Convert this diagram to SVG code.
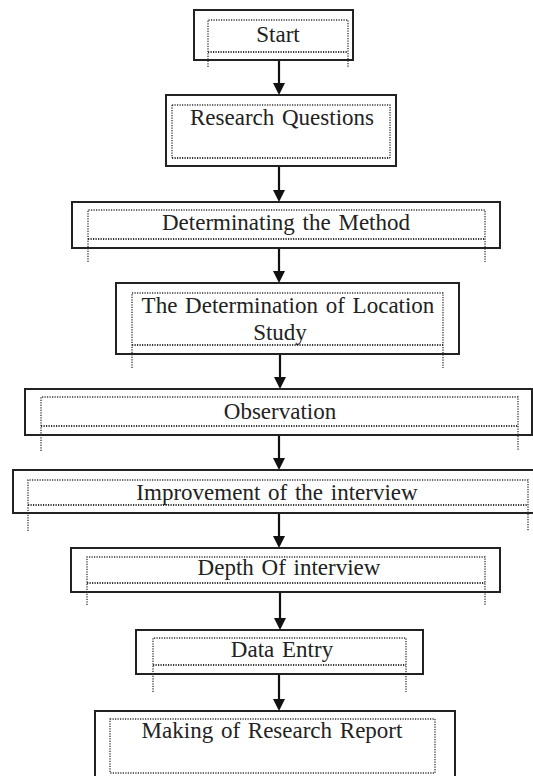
<svg xmlns="http://www.w3.org/2000/svg" width="533" height="776" viewBox="0 0 533 776">
<style>
  .outer { fill: #ffffff; stroke: #222222; stroke-width: 2; }
  .dot { fill: none; stroke: #333333; stroke-width: 1.3; stroke-dasharray: 1.2 1.3; }
  .dotb { fill: none; stroke: #333333; stroke-width: 2.2; stroke-dasharray: 1.2 1.3; }
  .lbl { font-family: "Liberation Serif", "Times New Roman", serif; font-size: 23px; fill: #222222; text-anchor: middle; word-spacing: 2px; }
  .conn { stroke: #111111; stroke-width: 2.2; fill: none; }
</style>
<defs>
  <marker id="arrow" markerUnits="userSpaceOnUse" markerWidth="12" markerHeight="12" viewBox="0 0 12 12" refX="8" refY="6" orient="auto">
    <path d="M0,0 L12,6 L0,12 z" fill="#111111"/>
  </marker>
</defs>
<rect width="533" height="776" fill="#ffffff"/>

<g id="connectors">
  <line class="conn" x1="279" y1="60" x2="279" y2="91" marker-end="url(#arrow)"/>
  <line class="conn" x1="279" y1="166" x2="279" y2="198" marker-end="url(#arrow)"/>
  <line class="conn" x1="279" y1="248" x2="279" y2="279" marker-end="url(#arrow)"/>
  <line class="conn" x1="280" y1="354" x2="280" y2="385" marker-end="url(#arrow)"/>
  <line class="conn" x1="279" y1="435" x2="279" y2="466" marker-end="url(#arrow)"/>
  <line class="conn" x1="279" y1="513" x2="279" y2="544" marker-end="url(#arrow)"/>
  <line class="conn" x1="280" y1="592" x2="280" y2="626" marker-end="url(#arrow)"/>
  <line class="conn" x1="279" y1="674" x2="279" y2="707" marker-end="url(#arrow)"/>
</g>

<g id="start">
  <rect class="outer" x="194" y="10" width="159" height="50"/>
  <path class="dot" d="M208,67 V20 H348 V67"/>
  <line class="dotb" x1="208" y1="52" x2="348" y2="52"/>
  <text class="lbl" x="278" y="42">Start</text>
</g>

<g id="research-questions">
  <rect class="outer" x="166" y="95" width="230" height="71"/>
  <path class="dot" d="M172,105 H390 V158"/>
  <line class="dot" x1="172" y1="105" x2="172" y2="158"/>
  <line class="dotb" x1="172" y1="158" x2="390" y2="158"/>
  <text class="lbl" x="282" y="125">Research  Questions</text>
</g>

<g id="determinating-method">
  <rect class="outer" x="72" y="202" width="428" height="46"/>
  <path class="dot" d="M88,262 V210 H485 V262"/>
  <line class="dotb" x1="88" y1="239" x2="485" y2="239"/>
  <text class="lbl" x="286" y="230">Determinating the Method</text>
</g>

<g id="location-study">
  <rect class="outer" x="116" y="283" width="343" height="71"/>
  <path class="dot" d="M132,368 V293 H443 V368"/>
  <line class="dotb" x1="132" y1="345" x2="443" y2="345"/>
  <text class="lbl" x="288" y="313">The Determination of Location</text>
  <text class="lbl" x="280" y="340">Study</text>
</g>

<g id="observation">
  <rect class="outer" x="25" y="389" width="507" height="46"/>
  <path class="dot" d="M41,451 V397 H518 V451"/>
  <line class="dotb" x1="41" y1="426" x2="518" y2="426"/>
  <text class="lbl" x="280" y="419">Observation</text>
</g>

<g id="improvement-interview">
  <rect class="outer" x="13" y="470" width="525" height="43"/>
  <path class="dot" d="M28,531 V480 H528 V531"/>
  <line class="dotb" x1="28" y1="505" x2="528" y2="505"/>
  <text class="lbl" x="277" y="500">Improvement of the interview</text>
</g>

<g id="depth-interview">
  <rect class="outer" x="71" y="548" width="429" height="44"/>
  <path class="dot" d="M87,605 V557 H485 V605"/>
  <line class="dotb" x1="87" y1="583" x2="485" y2="583"/>
  <text class="lbl" x="289" y="575">Depth Of interview</text>
</g>

<g id="data-entry">
  <rect class="outer" x="136" y="630" width="287" height="44"/>
  <path class="dot" d="M153,692 V638 H406 V692"/>
  <line class="dotb" x1="153" y1="665" x2="406" y2="665"/>
  <text class="lbl" x="282" y="657">Data Entry</text>
</g>

<g id="research-report">
  <rect class="outer" x="95" y="711" width="360" height="80"/>
  <rect class="dot" x="110" y="719" width="325" height="54"/>
  <text class="lbl" x="272" y="738">Making of Research Report</text>
</g>
</svg>
